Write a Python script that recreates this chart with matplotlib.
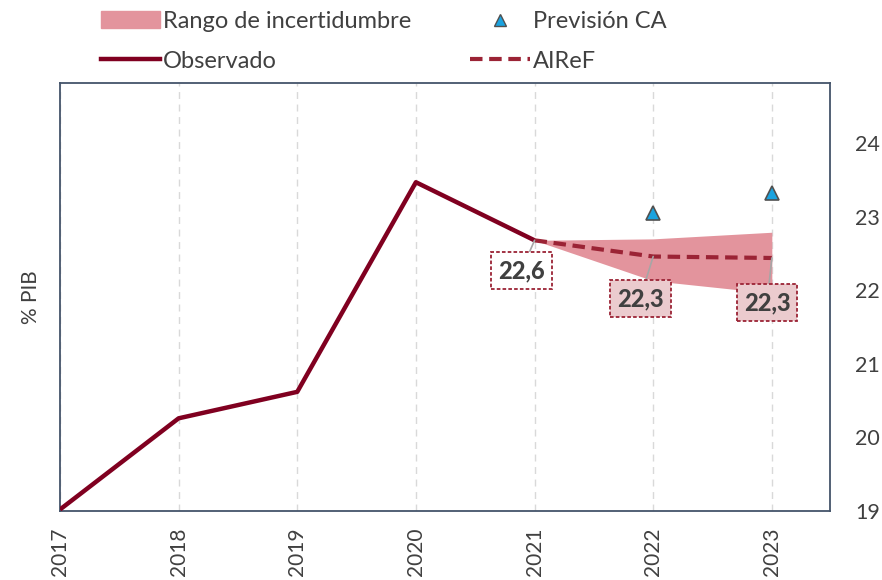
import matplotlib

matplotlib.use("Agg")
import matplotlib.pyplot as plt
from matplotlib.patches import Patch
from matplotlib.lines import Line2D

plt.rcParams.update({"font.family": ["Lato", "DejaVu Sans"]})

YEARS_OBS = [2017, 2018, 2019, 2020, 2021]
OBSERVADO = [19.02, 20.26, 20.62, 23.47, 22.68]

YEARS_AIREF = [2021, 2022, 2023]
AIREF = [22.68, 22.46, 22.44]
RANGO_LOW = [22.68, 22.13, 21.96]
RANGO_HIGH = [22.68, 22.70, 22.79]

YEARS_CA = [2022, 2023]
PREVISION_CA = [23.05, 23.33]

LABELS = ["22,6", "22,3", "22,3"]
LABEL_POS = [(2020.89, 22.27), (2021.89, 21.89), (2022.96, 21.83)]
LABEL_FILL = ["white", "#EBCBCE", "#EBCBCE"]

TICK_YEARS = [2017, 2018, 2019, 2020, 2021, 2022, 2023]

DARK = "#800020"
DASH = "#9B2335"
BAND = "#E3949D"
TEXT = "#404040"
FRAME = "#44546A"

fig = plt.figure(figsize=(8.82, 5.8), dpi=100)
ax = fig.add_axes([0.068, 0.119, 0.873, 0.738])

for yr in TICK_YEARS:
    ax.axvline(yr, color="#D9D9D9", lw=1.0, ls=(0, (5, 4)), zorder=0)

ax.fill_between(YEARS_AIREF, RANGO_LOW, RANGO_HIGH, color=BAND, lw=0, zorder=1)
ax.plot(YEARS_OBS, OBSERVADO, color=DARK, lw=3.2, zorder=3, solid_capstyle="butt")
ax.plot(YEARS_AIREF, AIREF, color=DASH, lw=3, ls=(0, (3, 1.6)), zorder=3)
ax.plot(YEARS_CA, PREVISION_CA, ls="none", marker="^", ms=10,
        mfc="#1AA3E0", mec="#505050", mew=1.2, zorder=4)

for i, (txt, pos, fc) in enumerate(zip(LABELS, LABEL_POS, LABEL_FILL)):
    ax.annotate(txt, xy=(YEARS_AIREF[i], AIREF[i]), xytext=pos,
                ha="center", va="center", fontsize=17, fontweight="black", color=TEXT,
                bbox=dict(boxstyle="square,pad=0.3", fc=fc, ec=DASH, lw=1.3, ls=(0, (2, 1.2))),
                arrowprops=dict(arrowstyle="-", color="#A6A6A6", lw=1.2, shrinkA=0, shrinkB=0),
                zorder=5)

ax.set_xlim(2017, 2023.49)
ax.set_ylim(19, 24.82)
ax.set_xticks(TICK_YEARS)
ax.set_xticklabels([str(y) for y in TICK_YEARS], rotation=90, fontsize=15, color=TEXT)
ax.set_yticks([19, 20, 21, 22, 23, 24])
ax.yaxis.tick_right()
ax.tick_params(axis="y", length=0, pad=18, labelsize=15.5, labelcolor=TEXT)
ax.tick_params(axis="x", length=0, pad=12)
ax.set_ylabel("% PIB", fontsize=15, color=TEXT, labelpad=14)
ax.yaxis.set_label_position("left")
for sp in ax.spines.values():
    sp.set_color(FRAME)
    sp.set_linewidth(1.3)

handles = [
    Patch(color=BAND, label="Rango de incertidumbre"),
    Line2D([], [], color=DARK, lw=3.2, label="Observado"),
    Line2D([], [], ls="none", marker="^", ms=8, mfc="#1AA3E0", mec="#505050", label="Previsión CA"),
    Line2D([], [], color=DASH, lw=3, ls=(0, (3, 1.6)), label="AIReF"),
]
fig.legend(handles=handles, ncol=2, loc="upper left", bbox_to_anchor=(0.09, 1.018),
           frameon=False, fontsize=17, labelcolor=TEXT, columnspacing=2.5,
           handlelength=2.5, handletextpad=0.15, labelspacing=0.8)

fig.savefig("out.png", dpi=100)
